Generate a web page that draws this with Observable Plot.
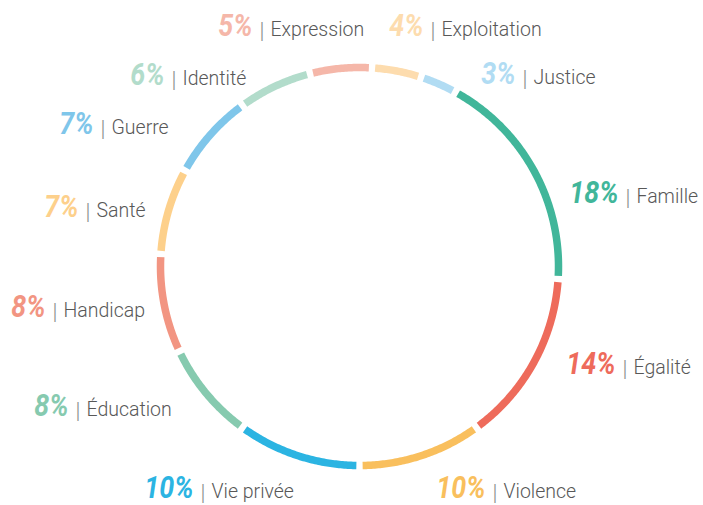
<!DOCTYPE html>
<html>
<head>
<meta charset="utf-8">
<script src="https://cdn.jsdelivr.net/npm/d3@7"></script>
<script src="https://cdn.jsdelivr.net/npm/@observablehq/plot@0.6"></script>
<style>
  html, body { margin: 0; padding: 0; background: #fff; }
  #chart svg { display: block; }
</style>
</head>
<body>
<div id="chart"></div>
<script>
// ---- data ----
const categories = ["Famille", "Égalité", "Violence", "Vie privée", "Éducation", "Handicap",
                    "Santé", "Guerre", "Identité", "Expression", "Exploitation", "Justice"];
const values = [18, 14, 10, 10, 8, 8, 7, 7, 6, 5, 4, 3];
const colors = ["#41b69a", "#ee6b5b", "#f9bf5d", "#2bb4e2", "#86caaf", "#f29582",
                "#fdd08b", "#7fc6ea", "#b2dccb", "#f5b7a9", "#fddcae", "#b1dcf3"];

// ---- layout (pixels) ----
const W = 703, H = 505;
const cx = 359, cy = 266, R = 199;      // ring centre and radius
const startAngle = 28.8;                 // degrees clockwise from top, where the first slice begins
const padDeg = 0.9;                      // half gap between slices
const pctSqueeze = 0.84;                 // horizontal condensing of the percentage figures
// label anchors: right end of the percentage and its baseline
const labelEndX = [618, 615, 485, 193, 68, 45, 78, 93, 164, 252, 423, 515];
const labelBaseY = [202, 373, 497.5, 497, 415, 316, 216, 133, 84, 35, 35, 83];

// ---- derived ----
const total = d3.sum(values);
let acc = startAngle;
const slices = categories.map((c, i) => {
  const a0 = acc, a1 = acc + values[i] / total * 360;
  acc = a1;
  return {category: c, value: values[i], color: colors[i], a0, a1};
});

// arc polylines in ring units (radius = 1)
const arcPts = [];
for (const s of slices) {
  const from = s.a0 + padDeg, to = s.a1 - padDeg;
  const n = Math.max(2, Math.ceil((to - from) / 0.5));
  for (let k = 0; k <= n; k++) {
    const a = (from + (to - from) * k / n) * Math.PI / 180;
    arcPts.push({category: s.category, x: Math.sin(a), y: Math.cos(a)});
  }
}

// labels converted to ring units
const labels = slices.map((s, i) => ({
  category: s.category,
  pct: s.value + "%",
  x: (labelEndX[i] - cx) / R,
  y: (cy - labelBaseY[i]) / R,
  xBar: (labelEndX[i] + 9.5 - cx) / R,
  xName: (labelEndX[i] + 18 - cx) / R
}));

const plot = Plot.plot({
  width: W,
  height: H,
  margin: 0,
  style: {background: "#fff"},
  x: {domain: [-cx / R, (W - cx) / R], range: [0, W], axis: null},
  y: {domain: [-(H - cy) / R, cy / R], range: [H, 0], axis: null},
  color: {domain: categories, range: colors},
  marks: [
    Plot.line(arcPts, {
      x: "x", y: "y", z: "category", stroke: "category",
      strokeWidth: 7.5, strokeLinecap: "butt", strokeLinejoin: "round"
    }),
    Plot.text(labels, {
      x: "x", y: "y", text: "pct", fill: "category",
      textAnchor: "end", lineAnchor: "bottom",
      fontFamily: "Roboto, sans-serif",
      fontWeight: 700, fontStyle: "italic", fontSize: 32
    }),
    Plot.text(labels, {
      x: "xBar", y: "y", text: () => "|", fill: "#8c8c8c",
      textAnchor: "middle", lineAnchor: "bottom", dy: 2,
      fontFamily: "Roboto, sans-serif", fontWeight: 300, fontSize: 22
    }),
    Plot.text(labels, {
      x: "xName", y: "y", text: "category", fill: "#585858",
      textAnchor: "start", lineAnchor: "bottom",
      fontFamily: "Roboto, sans-serif", fontWeight: 300, fontSize: 19.5
    })
  ]
});

// condense the percentage figures horizontally around their anchor
const textGroups = plot.querySelectorAll('g[aria-label="text"]');
if (textGroups.length) {
  textGroups[0].querySelectorAll("text").forEach(t => {
    const tr = t.getAttribute("transform") || "";
    t.setAttribute("transform", tr + ` scale(${pctSqueeze},1)`);
  });
}

document.getElementById("chart").appendChild(plot);
</script>
</body>
</html>
